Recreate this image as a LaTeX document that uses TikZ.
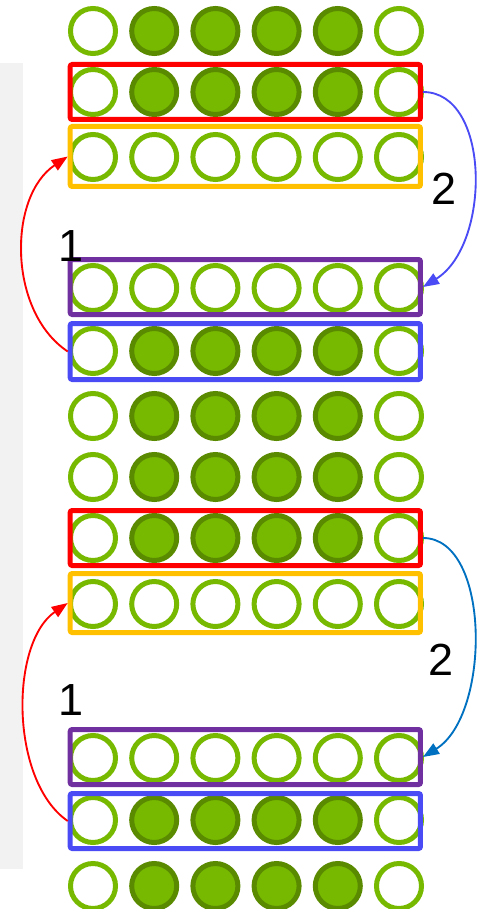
\documentclass[tikz,border=0pt]{standalone}
\usepackage{fontspec}
\setmainfont{Liberation Sans}
\usetikzlibrary{arrows.meta}
\definecolor{ngreen}{HTML}{76B900}
\definecolor{dgreen}{HTML}{5A8A00}
\definecolor{panelgray}{HTML}{F2F2F2}
\definecolor{boxred}{HTML}{FF0000}
\definecolor{boxorange}{HTML}{FFC000}
\definecolor{boxpurple}{HTML}{7030A0}
\definecolor{boxblue}{HTML}{4B4BF5}
\definecolor{arrowblue}{HTML}{0070C0}
\begin{document}
\begin{tikzpicture}[x=0.75pt,y=-0.75pt,
  opencirc/.style={circle,draw=ngreen,fill=white,line width=3.75pt,minimum size=33.75pt,inner sep=0pt},
  fillcirc/.style={circle,draw=dgreen,fill=ngreen,line width=3.75pt,minimum size=33.75pt,inner sep=0pt},
  rowbox/.style={draw=#1,line width=3.75pt,rounded corners=1.5pt,minimum width=262.7pt,inner sep=0pt,fill=none},
  lbl/.style={inner sep=0pt,font=\fontsize{33.75pt}{40pt}\selectfont,text=black},
  movearrow/.style={draw=#1,line width=1.4pt,-{Triangle[length=12pt,width=9pt]}}]
\useasboundingbox (0,0) rectangle (482,909);
\fill[panelgray] (0,62.7) rectangle (22.7,869);
% circles
\foreach \r/\y in {1/31,2/92,5/351,6/416,7/477,8/538,11/820,12/886}{
  \foreach \i in {1,6} \node[opencirc] (c\r-\i) at ({93+61.2*(\i-1)},\y) {};
  \foreach \i in {2,...,5} \node[fillcirc] (c\r-\i) at ({93+61.2*(\i-1)},\y) {};
}
\foreach \r/\y in {3/157,4/288,9/604,10/758}{
  \foreach \i in {1,...,6} \node[opencirc] (c\r-\i) at ({93+61.2*(\i-1)},\y) {};
}
% boxes
\node[rowbox=boxred,minimum height=41.25pt] (redA) at (245.35,92) {};
\node[rowbox=boxorange,minimum height=45pt] (orangeA) at (245.35,156.5) {};
\node[rowbox=boxpurple,minimum height=41.25pt] (purpA) at (245.35,287) {};
\node[rowbox=boxblue,minimum height=42pt] (blueA) at (245.35,351.5) {};
\node[rowbox=boxred,minimum height=41.25pt] (redB) at (245.35,538) {};
\node[rowbox=boxorange,minimum height=44.25pt] (orangeB) at (245.35,603) {};
\node[rowbox=boxpurple,minimum height=41.25pt] (purpB) at (245.35,757) {};
\node[rowbox=boxblue,minimum height=41.25pt] (blueB) at (245.35,821) {};
% arrows
\draw[movearrow=boxblue] (redA.east) .. controls +(68,0) and +(68,-42) .. (purpA.east);
\draw[movearrow=arrowblue] (redB.east) .. controls +(68,0) and +(68,-42) .. (purpB.east);
\draw[movearrow=boxred] (blueA.west) .. controls +(-60,-40) and +(-60,40) .. (orangeA.west);
\draw[movearrow=boxred] (blueB.west) .. controls +(-58,-40) and +(-58,40) .. (orangeB.west);
% labels
\node[lbl] (twoA) at (444.5,188.5) {2};
\node[lbl] (twoB) at (441.5,660) {2};
\node[lbl] (oneA) at (71.5,246) {1};
\node[lbl] (oneB) at (71.5,700) {1};
\end{tikzpicture}
\end{document}
